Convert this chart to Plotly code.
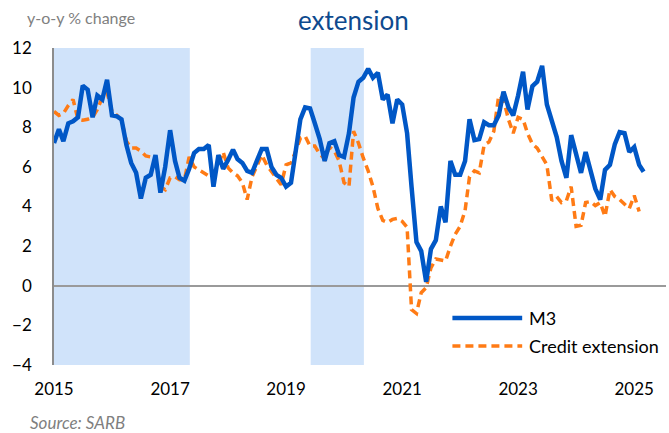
import pandas as pd
import plotly.graph_objects as go

# monthly y-o-y growth, Jan 2015 onwards
m3 = [7.2, 7.9, 7.3, 8.2, 8.3, 8.5, 10.1, 9.9, 8.5, 9.6, 9.4, 10.4,
      8.6, 8.55, 8.4, 7.1, 6.2, 5.7, 4.4, 5.45, 5.6, 6.6, 4.7, 6.0,
      7.85, 6.3, 5.45, 5.3, 5.9, 6.7, 6.9, 6.9, 7.1, 5.0, 6.6, 5.9,
      6.35, 6.87, 6.4, 6.2, 5.8, 5.7, 6.3, 6.9, 6.9, 6.0, 5.6, 5.45,
      5.0, 5.2, 6.7, 8.4, 9.0, 8.95, 8.2, 7.4, 6.3, 7.2, 7.3, 6.6,
      6.5, 7.7, 9.5, 10.3, 10.5, 10.95, 10.5, 10.75, 9.4, 9.65, 8.2, 9.4,
      9.15, 7.7, 5.0, 2.2, 1.75, 0.2, 1.85, 2.3, 4.0, 3.2, 6.3, 5.6,
      5.6, 6.3, 8.4, 7.35, 7.4, 8.25, 8.1, 8.1, 8.6, 9.8, 9.0, 8.6,
      9.6, 10.8, 8.9, 10.07, 10.3, 11.1, 9.15, 8.4, 7.5, 6.3, 5.45, 7.6,
      6.7, 5.7, 6.75, 5.85, 4.9, 4.35, 5.85, 6.1, 7.15, 7.75, 7.7, 6.75,
      7.0, 6.1, 5.75]

credit = [8.8, 8.6, 8.7, 9.1, 9.4, 8.4, 8.35, 8.4, 8.5, 8.9, 9.5, 9.75,
          8.8, 8.6, 8.35, 7.3, 6.95, 6.95, 6.8, 6.55, 6.5, 6.3, 5.0, 4.85,
          5.45, 5.5, 5.35, 5.35, 6.5, 6.0, 5.85, 5.7, 5.55, 5.7, 6.1, 6.75,
          5.95, 5.7, 5.55, 5.2, 4.35, 5.5, 6.0, 6.6, 6.1, 5.75, 5.45, 5.1,
          6.1, 6.2, 6.75, 7.45, 7.55, 7.05, 7.05, 6.65, 6.4, 7.0, 6.8, 6.3,
          5.2, 5.0, 7.8, 7.2, 6.45, 5.8, 5.0, 3.9, 3.3, 3.2, 3.35, 3.4,
          3.25, 2.95, -1.2, -1.4, -0.35, -0.1, 0.9, 1.35, 1.3, 1.25, 2.0, 2.6,
          3.0, 3.8, 5.5, 5.8, 5.7, 7.1, 7.25, 7.8, 9.6, 9.4, 8.4, 7.7,
          8.5, 8.4, 7.7, 7.15, 6.95, 6.55, 6.1, 4.3, 4.5, 4.2, 4.3, 5.0,
          3.0, 3.05, 4.2, 4.25, 4.05, 4.2, 3.5, 4.85, 4.5, 4.35, 4.15, 3.9,
          4.55, 3.75]

shaded = [("2015-01-01", "2017-05-05"), ("2019-06-05", "2020-05-05")]
year_ticks = ["2015", "2017", "2019", "2021", "2023", "2025"]

dates_m3 = pd.date_range("2015-01-01", periods=len(m3), freq="MS")
dates_credit = pd.date_range("2015-01-01", periods=len(credit), freq="MS")

BLUE = "#0057C6"
ORANGE = "#FF7B15"
FONT = "Lato"

fig = go.Figure()

fig.add_trace(go.Scatter(x=dates_credit, y=credit, mode="lines", name="Credit extension",
                         line=dict(color=ORANGE, width=3.5, dash="8px,5px")))
fig.add_trace(go.Scatter(x=dates_m3, y=m3, mode="lines", name="M3",
                         line=dict(color=BLUE, width=4.5)))

for x0, x1 in shaded:
    fig.add_shape(type="rect", xref="x", yref="paper", x0=x0, x1=x1, y0=0, y1=1,
                  fillcolor="#D0E3FA", line_width=0, layer="below")

# legend drawn by hand to get the long Excel-style samples
fig.add_shape(type="line", xref="paper", yref="paper", x0=0.651, x1=0.765, y0=0.148, y1=0.148,
              line=dict(color=BLUE, width=4.5))
fig.add_shape(type="line", xref="paper", yref="paper", x0=0.651, x1=0.765, y0=0.060, y1=0.060,
              line=dict(color=ORANGE, width=3.5, dash="8px,5px"))
fig.add_annotation(xref="paper", yref="paper", x=0.773, y=0.148, text="M3", showarrow=False,
                   xanchor="left", yanchor="middle", font=dict(family=FONT, size=18, color="black"))
fig.add_annotation(xref="paper", yref="paper", x=0.773, y=0.060, text="Credit extension",
                   showarrow=False, xanchor="left", yanchor="middle",
                   font=dict(family=FONT, size=18, color="black"))

fig.add_annotation(xref="paper", yref="paper", x=0.49, y=1.0, yshift=28, text="extension",
                   showarrow=False, xanchor="center", yanchor="middle",
                   font=dict(family=FONT, size=26, color="#0E4A8E"))
fig.add_annotation(x=-0.048, xref="paper", y=1.0, yref="paper", yshift=31,
                   text="y-o-y % change", showarrow=False, xanchor="left", yanchor="middle",
                   font=dict(family=FONT, size=16, color="#808080"))
fig.add_annotation(x=-0.042, xref="paper", y=0.0, yref="paper", yshift=-57,
                   text="<i>Source: SARB</i>", showarrow=False, xanchor="left", yanchor="middle",
                   font=dict(family=FONT, size=17, color="#7F7F7F"))

fig.update_xaxes(range=["2015-01-01", "2025-07-20"], tickvals=[t + "-01-01" for t in year_ticks],
                 ticktext=year_ticks, showgrid=False, showline=False, zeroline=False,
                 ticks="", ticklabelstandoff=12, tickfont=dict(family=FONT, size=17, color="black"))
fig.update_yaxes(range=[-4, 12], dtick=2, showgrid=False, showline=True, linecolor="#8C8C8C",
                 linewidth=1.5, zeroline=True, zerolinecolor="#9A9A9A", zerolinewidth=1.5,
                 ticks="", ticklabelstandoff=17, tickfont=dict(family=FONT, size=17, color="black"))

fig.update_layout(width=669, height=433, margin=dict(l=54, r=3, t=48, b=68),
                  plot_bgcolor="white", paper_bgcolor="white", showlegend=False)

fig.write_html("out.html", config={"displayModeBar": False},
               post_script="document.body.style.margin='0';")
